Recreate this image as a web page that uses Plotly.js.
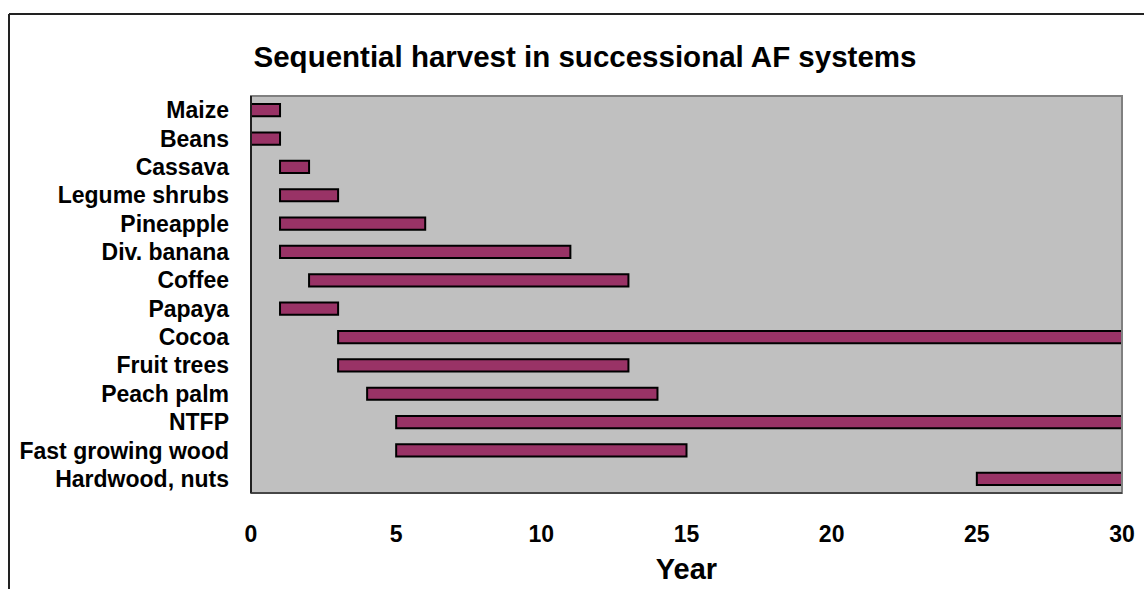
<!DOCTYPE html>
<html>
<head>
<meta charset="utf-8">
<script src="https://cdn.plot.ly/plotly-3.0.1.min.js"></script>
<style>html,body{margin:0;padding:0;background:#fff;}#chart{width:1144px;height:589px;}</style>
</head>
<body>
<div id="chart"></div>
<script>
const crops = ["Maize","Beans","Cassava","Legume shrubs","Pineapple","Div. banana","Coffee","Papaya","Cocoa","Fruit trees","Peach palm","NTFP","Fast growing wood","Hardwood, nuts"];
const startYear = [0,0,1,1,1,1,2,1,3,3,4,5,5,25];
const endYear   = [1,1,2,3,6,11,13,3,30,13,14,30,15,30];
const xTicks = [0,5,10,15,20,25,30];

const L = 251, R = 22, T = 96, B = 96, W = 1144, H = 589;
const pw = W - L - R, ph = H - T - B;
const px = v => (v - L) / pw;
const py = v => (H - B - v) / ph;

const trace = {
  type: 'bar',
  orientation: 'h',
  y: crops,
  base: startYear,
  x: endYear.map((e, i) => e - startYear[i]),
  width: 0.43,
  marker: {color: '#993366', line: {color: '#000000', width: 2}},
  hoverinfo: 'skip'
};

const font = "Arial, 'Liberation Sans', sans-serif";
const layout = {
  width: W, height: H,
  margin: {l: L, r: R, t: T, b: B, pad: 0},
  paper_bgcolor: '#ffffff',
  plot_bgcolor: '#c0c0c0',
  showlegend: false,
  font: {family: font, color: '#000', size: 23},
  title: {text: '<b>Sequential harvest in successional AF systems</b>', font: {family: font, size: 29.5, color: '#000'},
          xref: 'paper', x: px(585), xanchor: 'center', yref: 'container', y: 1 - 57/H, yanchor: 'middle'},
  xaxis: {range: [0, 30], tickvals: xTicks, ticktext: xTicks.map(v => '<b>' + v + '</b>'),
          showgrid: false, zeroline: false, showline: false, ticks: '', ticklabelstandoff: 25,
          tickfont: {family: font, size: 23, color: '#000'},
          title: {text: '<b>Year</b>', font: {family: font, size: 29, color: '#000'}, standoff: 12}},
  yaxis: {autorange: false, range: [crops.length - 0.5, -0.5], type: 'category',
          tickvals: crops, ticktext: crops.map(c => '<b>' + c + '</b>'),
          showgrid: false, zeroline: false, showline: false, ticks: '', ticklabelstandoff: 21,
          tickfont: {family: font, size: 23, color: '#000'}},
  shapes: [
    {type: 'rect', xref: 'paper', yref: 'paper', x0: 0, x1: 1, y0: 0, y1: 1, line: {color: '#808080', width: 2}, layer: 'above'},
    {type: 'line', xref: 'paper', yref: 'paper', x0: 0, x1: 0, y0: 0, y1: 1, line: {color: '#000', width: 1.5}, layer: 'above'},
    {type: 'line', xref: 'paper', yref: 'paper', x0: 0, x1: 1, y0: 0, y1: 0, line: {color: '#333', width: 1.5}, layer: 'above'},
    {type: 'line', xref: 'paper', yref: 'paper', x0: px(9), x1: px(9), y0: py(14), y1: py(600), line: {color: '#222', width: 2}},
    {type: 'line', xref: 'paper', yref: 'paper', x0: px(9), x1: px(1150), y0: py(14), y1: py(14), line: {color: '#222', width: 2}}
  ]
};

Plotly.newPlot('chart', [trace], layout, {displayModeBar: false, staticPlot: true});
</script>
</body>
</html>
